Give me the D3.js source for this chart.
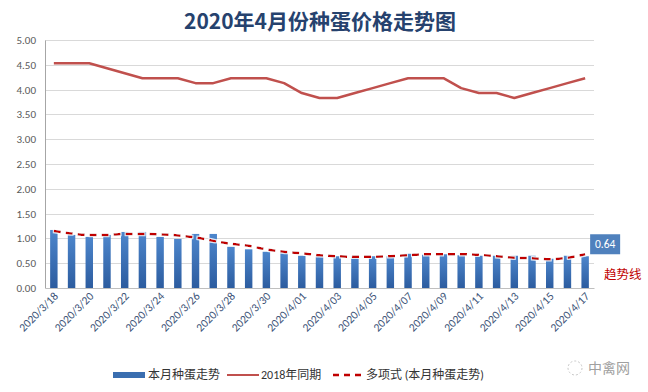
<!DOCTYPE html>
<html><head><meta charset="utf-8">
<script src="https://cdn.jsdelivr.net/npm/d3@7"></script>
<style>body{margin:0;background:#fff}svg{display:block}</style>
</head><body><svg id="c" width="648" height="392"></svg>
<script>
const dates = ["2020/3/18","2020/3/19","2020/3/20","2020/3/21","2020/3/22","2020/3/23","2020/3/24","2020/3/25","2020/3/26","2020/3/27","2020/3/28","2020/3/29","2020/3/30","2020/3/31","2020/4/01","2020/4/02","2020/4/03","2020/4/04","2020/4/05","2020/4/06","2020/4/07","2020/4/08","2020/4/09","2020/4/10","2020/4/11","2020/4/12","2020/4/13","2020/4/14","2020/4/15","2020/4/16","2020/4/17"];
const current = [1.17,1.07,1.03,1.07,1.13,1.13,1.03,0.99,1.09,1.09,0.83,0.78,0.73,0.72,0.65,0.65,0.64,0.64,0.64,0.64,0.69,0.67,0.68,0.66,0.65,0.65,0.65,0.65,0.59,0.65,0.64];
const same2018 = [4.53,4.53,4.53,4.43,4.33,4.23,4.23,4.23,4.13,4.13,4.23,4.23,4.23,4.13,3.93,3.83,3.83,3.93,4.03,4.13,4.23,4.23,4.23,4.03,3.93,3.93,3.83,3.93,4.03,4.13,4.23];
const trend = [1.15,1.10,1.07,1.07,1.09,1.09,1.08,1.06,1.02,0.95,0.89,0.85,0.78,0.73,0.70,0.66,0.64,0.63,0.63,0.64,0.66,0.68,0.68,0.68,0.67,0.64,0.61,0.60,0.58,0.61,0.68];
const yTicks = [0,0.5,1,1.5,2,2.5,3,3.5,4,4.5,5];
const title = "2020年4月份种蛋价格走势图";
const legendNames = ["本月种蛋走势","2018年同期","多项式 (本月种蛋走势)"];

const svg = d3.select("#c");
const L=45, R=594, T=40, B=288;
const font = "Calibri, Carlito, 'Liberation Sans', 'Noto Sans CJK SC', sans-serif";
const x = d3.scaleBand().domain(dates).range([L,R]).paddingInner(0.58).paddingOuter(0.29);
const y = d3.scaleLinear().domain([0,5]).range([B,T]);

const defs = svg.append("defs");
const g = defs.append("linearGradient").attr("id","bg").attr("x1",0).attr("x2",0).attr("y1",0).attr("y2",1);
g.append("stop").attr("offset","0%").attr("stop-color","#4d86cc");
g.append("stop").attr("offset","100%").attr("stop-color","#2c5c9f");
const glow = defs.append("filter").attr("id","glow").attr("x","-5%").attr("y","-50%").attr("width","110%").attr("height","200%");
glow.append("feMorphology").attr("in","SourceAlpha").attr("operator","dilate").attr("radius",1.2).attr("result","d");
glow.append("feFlood").attr("flood-color","#ffffff").attr("flood-opacity",0.8);
glow.append("feComposite").attr("in2","d").attr("operator","in").attr("result","w");
const fm = glow.append("feMerge"); fm.append("feMergeNode").attr("in","w"); fm.append("feMergeNode").attr("in","SourceGraphic");

svg.append("text").attr("x",320).attr("y",29).attr("text-anchor","middle")
  .attr("font-family","'Noto Sans CJK SC', sans-serif").attr("font-weight","bold")
  .attr("font-size",21).attr("fill","#26426e").text(title);

// gridlines
svg.append("g").selectAll("line").data(yTicks.slice(1)).join("line")
  .attr("x1",L).attr("x2",R).attr("y1",d=>Math.round(y(d))+0.5).attr("y2",d=>Math.round(y(d))+0.5)
  .attr("stroke","#d9d9d9").attr("stroke-width",1);

// y axis
const ya = svg.append("g").attr("transform",`translate(${L},0)`).call(d3.axisLeft(y).tickValues(yTicks).tickFormat(d3.format(".2f")).tickSize(0).tickPadding(9));
ya.select(".domain").attr("stroke","#a6a6a6");
ya.selectAll("text").attr("font-family",font).attr("font-size",11).attr("fill","#595959");

// bars
svg.append("g").selectAll("rect").data(current).join("rect")
  .attr("x",(d,i)=>x(dates[i])).attr("width",x.bandwidth())
  .attr("y",d=>y(d)).attr("height",d=>B-y(d)).attr("fill","url(#bg)");

// x axis
const xa = svg.append("g").attr("transform",`translate(0,${B})`).call(d3.axisBottom(x).tickValues(dates.filter((d,i)=>i%2===0)).tickSize(0).tickPadding(0));
xa.select(".domain").attr("stroke","#bfbfbf");
xa.selectAll("text").attr("font-family",font).attr("font-size",11.5).attr("fill","#3d5478")
  .attr("text-anchor","end").attr("dy",0)
  .attr("transform","translate(5,9) rotate(-45)");

const cx = i => x(dates[i]) + x.bandwidth()/2;
// 2018 line
svg.append("path").datum(same2018)
  .attr("d",d3.line().x((d,i)=>cx(i)).y(d=>y(d)))
  .attr("fill","none").attr("stroke","#c0504d").attr("stroke-width",2.5).attr("stroke-linejoin","round");
// trend
svg.append("path").datum(trend)
  .attr("d",d3.line().x((d,i)=>cx(i)).y(d=>y(d)).curve(d3.curveMonotoneX))
  .attr("fill","none").attr("stroke","#c00000").attr("stroke-width",2.5).attr("stroke-dasharray","7,5")
  .attr("filter","url(#glow)");

// data label
const last = current.length-1;
svg.append("rect").attr("x",cx(last)+5).attr("y",y(current[last])-22).attr("width",30).attr("height",20).attr("fill","#4f81bd");
svg.append("text").attr("x",cx(last)+20).attr("y",y(current[last])-8).attr("text-anchor","middle")
  .attr("font-family",font).attr("font-size",11.5).attr("fill","#fff").text(current[last].toFixed(2));
svg.append("text").attr("x",604).attr("y",279).attr("font-family","'Noto Sans CJK SC', sans-serif")
  .attr("font-size",12.5).attr("fill","#c00000").text("趋势线");

// legend
const ly = 375;
const lg = svg.append("g").attr("font-family",font).attr("font-size",12).attr("fill","#333");
lg.append("rect").attr("x",113).attr("y",ly-3).attr("width",32).attr("height",6).attr("fill","#3a6eb0");
lg.append("text").attr("x",148).attr("y",ly+4).text(legendNames[0]);
lg.append("line").attr("x1",227).attr("x2",259).attr("y1",ly).attr("y2",ly).attr("stroke","#c0504d").attr("stroke-width",2);
lg.append("text").attr("x",261).attr("y",ly+4).text(legendNames[1]);
lg.append("line").attr("x1",333).attr("x2",364).attr("y1",ly).attr("y2",ly).attr("stroke","#c00000").attr("stroke-width",2.5).attr("stroke-dasharray","6,5");
lg.append("text").attr("x",366).attr("y",ly+4).text(legendNames[2]);

// watermark
svg.append("circle").attr("cx",575).attr("cy",368).attr("r",7).attr("fill","none").attr("stroke","#c8c8c8").attr("stroke-dasharray","2,2");
svg.append("text").attr("x",588).attr("y",373).attr("font-family","'Noto Sans CJK SC', sans-serif")
  .attr("font-size",14).attr("fill","#a0a0a0").text("中禽网");
</script></body></html>
